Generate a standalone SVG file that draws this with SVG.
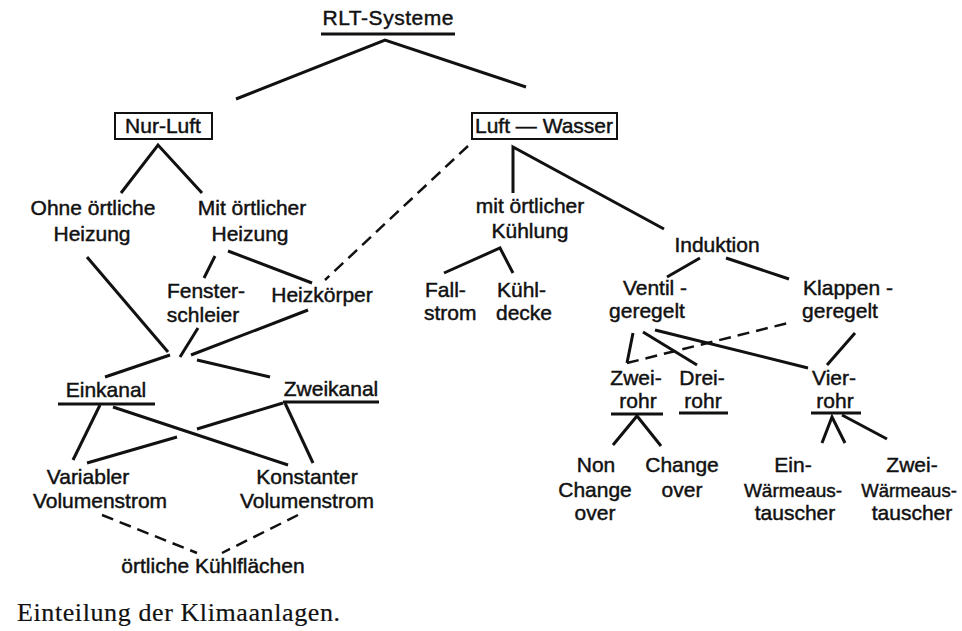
<svg xmlns="http://www.w3.org/2000/svg" width="962" height="631" viewBox="0 0 962 631">
<style>
text{font-family:"Liberation Sans",Arial,sans-serif;font-size:21px;fill:#111;stroke:#111;stroke-width:0.45;text-anchor:middle}
.s{text-anchor:start}
.w{font-size:19px}
.w2{font-size:18.5px}
.cap{font-family:"Liberation Serif","Times New Roman",serif;font-size:26px;text-anchor:start;stroke-width:0.2}
.ln{stroke:#111;stroke-width:3;fill:none;stroke-linecap:butt;stroke-linejoin:miter}
.ds{stroke:#111;stroke-width:2.5;fill:none;stroke-dasharray:12 7}
.bx{stroke:#111;stroke-width:2;fill:none}
.ul{stroke:#111;stroke-width:3}
</style>
<rect width="962" height="631" fill="#fff"/>
<g id="connectors">
<polyline class="ln" points="236,99 385,40 526,87"/>
<polyline class="ln" points="121,193 158,145 202,193"/>
<line class="ds" x1="468" y1="146" x2="325" y2="280"/>
<polyline class="ln" points="513,193 513,147 664,229"/>
<line class="ln" x1="215" y1="256" x2="204" y2="278"/>
<line class="ln" x1="228" y1="251" x2="312" y2="283"/>
<line class="ln" x1="87" y1="257" x2="168" y2="352"/>
<line class="ln" x1="198" y1="328" x2="180" y2="357"/>
<line class="ln" x1="308" y1="310" x2="191" y2="355"/>
<line class="ln" x1="170" y1="355" x2="105" y2="377"/>
<line class="ln" x1="197" y1="360" x2="270" y2="377"/>
<line class="ln" x1="100" y1="405" x2="73" y2="460"/>
<line class="ln" x1="113" y1="407" x2="288" y2="465"/>
<line class="ln" x1="285" y1="403" x2="313" y2="463"/>
<line class="ln" x1="283" y1="403" x2="197" y2="429"/>
<line class="ln" x1="177" y1="437" x2="87" y2="463"/>
<line class="ds" x1="102" y1="515" x2="197" y2="553"/>
<line class="ds" x1="298" y1="515" x2="222" y2="553"/>
<polyline class="ln" points="444,273 500,248 513,273"/>
<line class="ln" x1="700" y1="258" x2="667" y2="277"/>
<line class="ln" x1="726" y1="258" x2="789" y2="279"/>
<line class="ln" x1="633" y1="333" x2="627" y2="363"/>
<line class="ds" x1="627" y1="363" x2="792" y2="322"/>
<line class="ln" x1="643" y1="332" x2="697" y2="365"/>
<line class="ln" x1="655" y1="330" x2="808" y2="368"/>
<line class="ln" x1="855" y1="333" x2="827" y2="365"/>
<polyline class="ln" points="613,445 637,416 661,446"/>
<polyline class="ln" points="822,443 832,417 845,443"/>
<line class="ln" x1="842" y1="415" x2="887" y2="439"/>
</g>
<g id="rlt"><text x="388" y="25" textLength="131">RLT-Systeme</text><line class="ul" x1="321" y1="34" x2="455" y2="34"/></g>
<g id="nurluft"><rect class="bx" x="115" y="113" width="97" height="26"/><text x="163" y="133">Nur-Luft</text></g>
<g id="luftwasser"><rect class="bx" x="472" y="113" width="145" height="26"/><text x="544" y="133">Luft — Wasser</text></g>
<g id="ohne"><text x="93" y="215">Ohne örtliche</text><text x="92" y="241">Heizung</text></g>
<g id="mit"><text x="252" y="215">Mit örtlicher</text><text x="250" y="241">Heizung</text></g>
<g id="fenster"><text x="206" y="298">Fenster-</text><text x="203" y="322">schleier</text></g>
<g id="heizkoerper"><text x="322" y="302">Heizkörper</text></g>
<g id="einkanal"><text x="106" y="397">Einkanal</text><line class="ul" x1="58" y1="404" x2="155" y2="404"/></g>
<g id="zweikanal"><text x="331" y="396">Zweikanal</text><line class="ul" x1="283" y1="402" x2="379" y2="402"/></g>
<g id="variabler"><text x="88" y="484">Variabler</text><text x="100" y="508">Volumenstrom</text></g>
<g id="konstanter"><text x="307" y="484">Konstanter</text><text x="307" y="508">Volumenstrom</text></g>
<g id="kuehlflaechen"><text x="213" y="573">örtliche Kühlflächen</text></g>
<g id="mitkuehlung"><text x="530" y="213">mit örtlicher</text><text x="530" y="238">Kühlung</text></g>
<g id="fallstrom"><text class="s" x="425" y="297">Fall-</text><text class="s" x="424" y="320">strom</text></g>
<g id="kuehldecke"><text class="s" x="497" y="297">Kühl-</text><text class="s" x="496" y="320">decke</text></g>
<g id="induktion"><text x="717" y="252">Induktion</text></g>
<g id="ventil"><text x="655" y="295">Ventil -</text><text x="647" y="318">geregelt</text></g>
<g id="klappen"><text x="848" y="295">Klappen -</text><text x="840" y="318">geregelt</text></g>
<g id="zweirohr"><text x="636" y="385">Zwei-</text><text x="638" y="408">rohr</text><line class="ul" x1="611" y1="414" x2="663" y2="414"/></g>
<g id="dreirohr"><text x="702" y="385">Drei-</text><text x="703" y="408">rohr</text><line class="ul" x1="679" y1="413" x2="728" y2="413"/></g>
<g id="vierrohr"><text x="834" y="385">Vier-</text><text x="835" y="408">rohr</text><line class="ul" x1="811" y1="413" x2="861" y2="413"/></g>
<g id="nonchange"><text x="596" y="472">Non</text><text x="595" y="497">Change</text><text x="595" y="520">over</text></g>
<g id="changeover"><text x="682" y="472">Change</text><text x="682" y="497">over</text></g>
<g id="einwt"><text x="793" y="472">Ein-</text><text class="w" x="793" y="497">Wärmeaus-</text><text x="795" y="520">tauscher</text></g>
<g id="zweiwt"><text x="912" y="472">Zwei-</text><text class="w2" x="909" y="497">Wärmeaus-</text><text x="912" y="520">tauscher</text></g>
<g id="caption"><text class="cap" x="17" y="621" textLength="323">Einteilung der Klimaanlagen.</text></g>
</svg>
